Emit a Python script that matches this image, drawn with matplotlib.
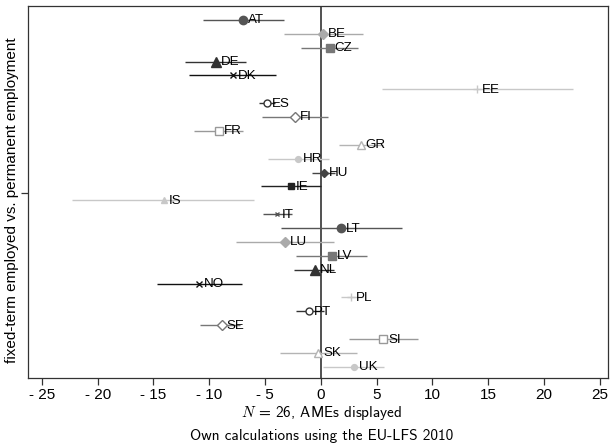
import os
import matplotlib
matplotlib.use("Agg")
import matplotlib.pyplot as plt
from matplotlib import font_manager as fm

countries = ["AT", "BE", "CZ", "DE", "DK", "EE", "ES", "FI", "FR", "GR", "HR", "HU", "IE",
             "IS", "IT", "LT", "LU", "LV", "NL", "NO", "PL", "PT", "SE", "SI", "SK", "UK"]
ame = [-7.0, 0.2, 0.8, -9.4, -7.9, 14.0, -4.8, -2.3, -9.1, 3.6, -2.0, 0.27, -2.7,
       -14.1, -3.9, 1.8, -3.2, 1.0, -0.5, -10.9, 2.75, -1.05, -8.9, 5.6, -0.24, 2.96]
ci_low = [-10.6, -3.3, -1.8, -12.2, -11.8, 5.5, -5.5, -5.3, -11.35, 1.6, -4.7, -0.8, -5.4,
          -22.3, -5.2, -3.6, -7.6, -2.2, -2.4, -14.7, 1.8, -2.2, -10.8, 2.5, -3.7, 0.2]
ci_high = [-3.3, 3.8, 3.3, -6.7, -4.0, 22.6, -4.1, 0.65, -7.0, 5.6, 0.7, 1.3, 0.05,
           -6.0, -2.6, 7.3, 1.2, 4.15, 1.2, -7.05, 3.8, 0.3, -7.2, 8.7, 3.25, 5.7]
xtick_vals = [-25, -20, -15, -10, -5, 0, 5, 10, 15, 20, 25]
xtick_labels = ["- 25", "- 20", "- 15", "- 10", "- 5", "0", "5", "10", "15", "20", "25"]

# Stata-like mono style cycle: (marker, size, filled, color)
styles = [
    ("o", 6.0, True, "#555555"),
    ("D", 5.5, True, "#aaaaaa"),
    ("s", 6.0, True, "#777777"),
    ("^", 6.5, True, "#333333"),
    ("x", 4.0, True, "#111111"),
    ("+", 6.0, True, "#c8c8c8"),
    ("o", 5.0, False, "#333333"),
    ("D", 5.5, False, "#777777"),
    ("s", 5.5, False, "#999999"),
    ("^", 6.0, False, "#b4b4b4"),
    ("o", 4.2, True, "#c8c8c8"),
    ("D", 4.2, True, "#444444"),
    ("s", 4.2, True, "#222222"),
    ("^", 4.5, True, "#c8c8c8"),
    ("x", 3.0, True, "#555555"),
]

fig = plt.figure(figsize=(6.13, 4.47), dpi=100)
ax = fig.add_axes([28 / 613, 1 - 378 / 447, 580 / 613, 372 / 447])

ypos = list(range(1, len(countries) + 1))
for i, (c, v, lo, hi) in enumerate(zip(countries, ame, ci_low, ci_high)):
    y = ypos[i]
    m, ms, filled, col = styles[i % len(styles)]
    ax.plot([lo, hi], [y, y], color=col, lw=1.0, zorder=2, solid_capstyle="butt")
    ax.plot([v], [y], marker=m, ms=ms, color=col,
            mfc=col if filled else "white", mec=col,
            mew=1.0, linestyle="none", zorder=3)
    ax.annotate(c, (v, y), xytext=(3.5, -0.3), textcoords="offset points",
                ha="left", va="center", fontsize=9.6, color="black",
                family="Liberation Sans", zorder=4)

ax.axvline(0, color="#333333", lw=1.2, zorder=1)

ax.set_xlim(-26.25, 25.75)
ax.set_ylim(26.8, 0.0)
ax.set_xticks(xtick_vals)
ax.set_xticklabels(xtick_labels, fontsize=11, family="Liberation Sans")
ax.set_yticks([13.5])
ax.set_yticklabels([""])
ax.tick_params(axis="both", direction="out", length=5, width=0.9, color="#333333", pad=2)
for s in ax.spines.values():
    s.set_color("#333333")
    s.set_linewidth(0.9)

fig.text(12 / 613, 1 - 200 / 447, "fixed-term employed vs. permanent employment",
         rotation=90, ha="center", va="center", fontsize=11, family="Liberation Sans")

cm_path = os.path.join(matplotlib.get_data_path(), "fonts", "ttf", "cmss10.ttf")
try:
    fm.fontManager.addfont(cm_path)
    foot_family = fm.FontProperties(fname=cm_path).get_name()
except Exception:
    foot_family = "DejaVu Sans"
plt.rcParams["mathtext.fontset"] = "cm"

fig.text(322 / 613, 1 - 413 / 447, r"$N$ = 26, AMEs displayed",
         ha="center", va="center", fontsize=11, family=foot_family)
fig.text(322 / 613, 1 - 436 / 447, "Own calculations using the EU-LFS 2010",
         ha="center", va="center", fontsize=11, family=foot_family)

fig.savefig("out.png", dpi=100)
